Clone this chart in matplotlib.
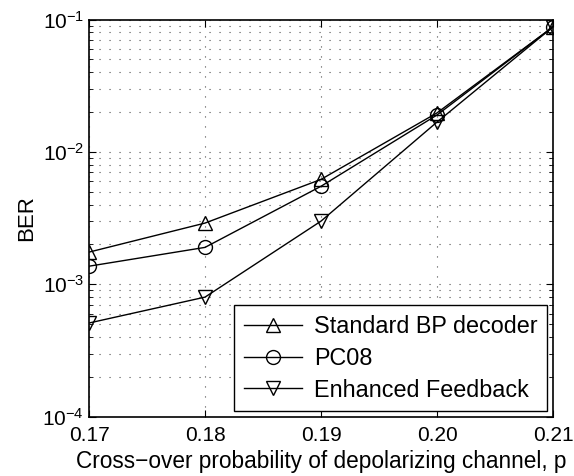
import numpy as np
import matplotlib
matplotlib.use("Agg")
import matplotlib.pyplot as plt
from matplotlib.ticker import LogLocator, NullFormatter

plt.rcParams['font.family'] = 'Liberation Sans'
plt.rcParams['mathtext.fontset'] = 'custom'
plt.rcParams['mathtext.rm'] = 'Liberation Sans'
plt.rcParams['mathtext.it'] = 'Liberation Sans'

p = [0.17, 0.18, 0.19, 0.20, 0.21]
ber_std = [1.75e-3, 2.9e-3, 6.2e-3, 1.97e-2, 8.8e-2]
ber_pc08 = [1.37e-3, 1.9e-3, 5.5e-3, 1.9e-2, 8.8e-2]
ber_ef = [5.1e-4, 8.0e-4, 3.0e-3, 1.68e-2, 8.8e-2]
xticks = [0.17, 0.18, 0.19, 0.20, 0.21]
xlabels = ["0.17", "0.18", "0.19", "0.20", "0.21"]

fig = plt.figure(figsize=(5.74, 4.76), dpi=100)
ax = fig.add_axes([89/574, 1 - 416.7/476, (553 - 89)/574, (416.7 - 19.5)/476])

mk = dict(color='black', lw=1.0, markersize=10, markerfacecolor='none', markeredgewidth=1.0)
ax.semilogy(p, ber_std, marker='^', label='Standard BP decoder', **mk)
ax.semilogy(p, ber_pc08, marker='o', label='PC08', **mk)
ax.semilogy(p, ber_ef, marker='v', label='Enhanced Feedback', **mk)

ax.set_xlim(0.17, 0.21)
ax.set_ylim(1e-4, 1e-1)
ax.set_xticks(xticks)
ax.set_xticklabels(xlabels)
ax.set_yticks([1e-4, 1e-3, 1e-2, 1e-1])
ax.set_yticklabels([r'$10^{-4}$', r'$10^{-3}$', r'$10^{-2}$', r'$10^{-1}$'])
ax.yaxis.set_minor_locator(LogLocator(base=10, subs=np.arange(2, 10), numticks=20))
ax.yaxis.set_minor_formatter(NullFormatter())

ax.tick_params(which='both', direction='in', top=True, right=True, labelsize=15)
ax.tick_params(which='major', length=5)
ax.tick_params(which='minor', length=3)
ax.tick_params(axis='x', pad=7)
ax.grid(True, which='major', axis='x', color='0.3', linestyle=(0, (1, 8)), lw=0.8)
ax.grid(True, which='both', axis='y', color='0.3', linestyle=(0, (1, 8)), lw=0.8)
for s in ax.spines.values():
    s.set_linewidth(1.2)

ax.set_xlabel('Cross\u2212over probability of depolarizing channel, p', fontsize=16.3, labelpad=3)
ax.set_ylabel('BER', fontsize=16, labelpad=4)

leg = ax.legend(loc='lower right', fontsize=16.8, fancybox=False, edgecolor='black',
                framealpha=1, borderaxespad=0.25, borderpad=0.4, handlelength=2.5,
                handletextpad=0.52, labelspacing=0.38)
leg.get_frame().set_linewidth(1.0)

fig.savefig('out.png', dpi=100)
